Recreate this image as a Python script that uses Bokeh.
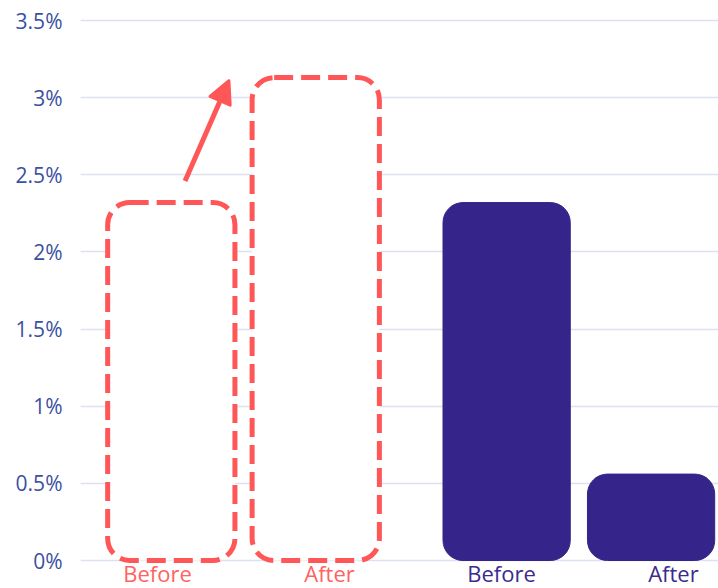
from bokeh.plotting import figure
from bokeh.models import Range1d, FixedTicker, Arrow, NormalHead, ColumnDataSource
from bokeh.core.properties import value
from bokeh.embed import file_html
from bokeh.resources import INLINE

# ---- data ----
categories = ["Before", "After", "Before", "After"]
rates = [2.32, 3.13, 2.32, 0.56]          # percent
groups = [0, 0, 1, 1]                      # 0 = projected (outline), 1 = actual (filled)
y_ticks = [0, 0.5, 1, 1.5, 2, 2.5, 3, 3.5]
y_tick_labels = ["0%", "0.5%", "1%", "1.5%", "2%", "2.5%", "3%", "3.5%"]

# ---- style ----
RED = "#ff5757"
RED_TXT = "#ff6262"
PURPLE = "#352489"
PURPLE_TXT = "#3b2b8e"
AXIS_TXT = "#3b50a3"
GRID = "#dce1f1"
FONT = "Open Sans"
BAR_W = 0.74
PULL = 0.08
GROUP_SHIFT = [0.0, -0.05]
PX_PER_UNIT = 540 / 3.5

idx = list(range(len(categories)))
bar_x = []
for i in idx:
    side = 1 if i % 2 == 0 else -1
    bar_x.append(i + side * PULL + GROUP_SHIFT[groups[i]])

p = figure(width=718, height=588, output_backend="svg", toolbar_location=None,
           x_range=Range1d(-0.448, 3.262),
           y_range=Range1d(-28 / PX_PER_UNIT, 3.5 + 2 / PX_PER_UNIT),
           min_border_left=80, min_border_right=0, min_border_top=18, min_border_bottom=0)
p.background_fill_color = "white"
p.border_fill_color = "white"
p.outline_line_color = None
p.xaxis.visible = False
p.xgrid.visible = False

p.yaxis.ticker = FixedTicker(ticks=y_ticks)
p.yaxis.major_label_overrides = {t: l for t, l in zip(y_ticks, y_tick_labels)}
p.yaxis.axis_line_color = None
p.yaxis.major_tick_line_color = None
p.yaxis.minor_tick_line_color = None
p.yaxis.major_tick_out = 0
p.yaxis.major_label_standoff = 18
p.yaxis.major_label_text_font = FONT
p.yaxis.major_label_text_font_size = "21px"
p.yaxis.major_label_text_color = AXIS_TXT
p.ygrid.ticker = FixedTicker(ticks=y_ticks)
p.ygrid.grid_line_color = GRID
p.ygrid.grid_line_width = 1.5

out_x = [x for x, g in zip(bar_x, groups) if g == 0]
out_v = [v for v, g in zip(rates, groups) if g == 0]
fill_x = [x for x, g in zip(bar_x, groups) if g == 1]
fill_v = [v for v, g in zip(rates, groups) if g == 1]

p.vbar(x=out_x, top=out_v, bottom=0, width=BAR_W, fill_color="white",
       line_color=RED, line_width=5, line_dash="19 8", border_radius=22)
p.vbar(x=fill_x, top=fill_v, bottom=0, width=BAR_W, fill_color=PURPLE,
       line_color=PURPLE, line_width=1, border_radius=20)

# arrow from projected 'before' to projected 'after'
arrow = Arrow(x_start=bar_x[0] + 0.08, y_start=rates[0] + 0.14,
              x_end=bar_x[1] - BAR_W / 2 - 0.135, y_end=rates[1] - 0.02,
              line_color=RED, line_width=5,
              end=NormalHead(size=22, fill_color=RED, line_color=RED, line_width=3, line_join="round"))
p.add_layout(arrow)

label_colors = [RED_TXT if g == 0 else PURPLE_TXT for g in groups]
src = ColumnDataSource(dict(x=idx, y=[0] * len(idx), text=categories, c=label_colors))
p.text(x="x", y="y", text="text", source=src, text_color="c",
       text_align="center", text_baseline="bottom", y_offset=27,
       text_font=value(FONT), text_font_size="22px")

open("out.html", "w").write(file_html(p, INLINE))
